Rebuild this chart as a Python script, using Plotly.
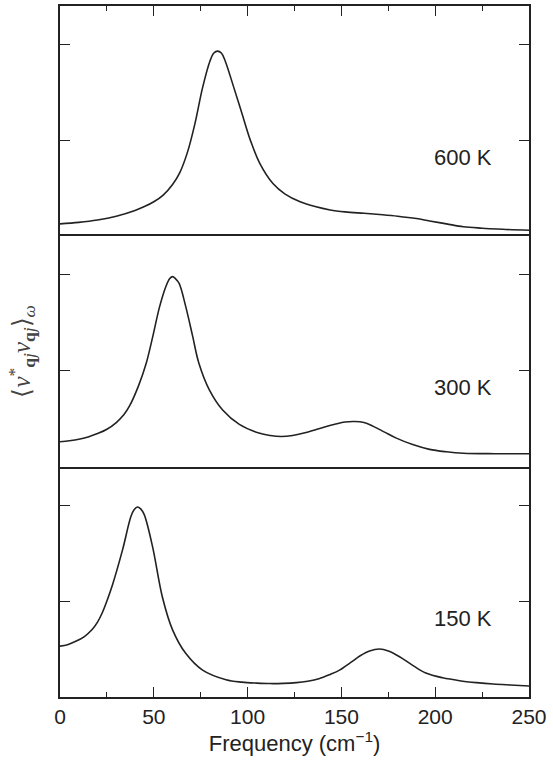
import plotly.graph_objects as go

# Frequency samples (cm^-1) and values for each temperature
freq_600 = [0, 10, 20, 30, 40, 45, 50, 55, 60, 64, 68, 72, 76, 80, 82, 84, 86, 88, 92.5, 97, 101.5,
            106.5, 113.5, 120, 128, 136, 144, 152, 162, 172, 180, 190, 197, 206, 215, 225, 233, 250]
val_600 = [0.13, 0.145, 0.17, 0.21, 0.27, 0.31, 0.36, 0.43, 0.54, 0.67, 0.88, 1.18, 1.55, 1.83, 1.91, 1.93, 1.91, 1.83, 1.56, 1.28, 1.0,
           0.76, 0.55, 0.44, 0.36, 0.31, 0.275, 0.255, 0.24, 0.225, 0.21, 0.185, 0.16, 0.13, 0.10, 0.085, 0.076, 0.063]

freq_300 = [0, 5, 10, 15, 20, 25, 30, 34, 37, 42, 46, 49.5, 53, 56.5, 58.5, 60, 61.5, 63.5, 67, 70.7, 74, 79.6, 86.7,
            95.6, 106, 112, 118, 124, 130, 137, 146, 152, 157, 162, 167, 173, 179, 188, 197, 206, 215, 232, 250]
val_300 = [0.26, 0.27, 0.285, 0.31, 0.345, 0.39, 0.46, 0.54, 0.63, 0.85, 1.08, 1.36, 1.66, 1.88, 1.96, 1.98, 1.96, 1.91, 1.67, 1.36, 1.08, 0.80, 0.59,
           0.44, 0.35, 0.325, 0.315, 0.325, 0.35, 0.39, 0.44, 0.465, 0.47, 0.46, 0.42, 0.36, 0.30, 0.23, 0.18, 0.155, 0.14, 0.135, 0.135]

freq_150 = [0, 4, 8.4, 13, 17, 20, 22.6, 25, 28, 33.3, 37.8, 39.5, 41.3, 43, 44.9, 49.3, 54.6, 60, 67, 76, 88.5, 97, 105, 112,
            119, 126, 132, 138, 144, 149, 155, 160, 165, 170.4, 175, 181, 188, 195, 204, 213, 222, 231, 240, 250]
val_150 = [0.53, 0.545, 0.58, 0.63, 0.70, 0.78, 0.88, 1.0, 1.17, 1.53, 1.88, 1.95, 1.98, 1.96, 1.90, 1.57, 1.04, 0.70, 0.455, 0.28, 0.18, 0.155, 0.145, 0.14,
           0.142, 0.15, 0.165, 0.19, 0.235, 0.28, 0.36, 0.43, 0.48, 0.50, 0.48, 0.42, 0.33, 0.25, 0.20, 0.17, 0.15, 0.135, 0.125, 0.115]

panel_labels = ["600 K", "300 K", "150 K"]
x_ticks = [0, 50, 100, 150, 200, 250]
x_minor = [25, 75, 125, 175, 225]
y_ticks = [1, 2]

LINE = "#222222"
TXT = "#222222"
FONT = "Liberation Sans, Arial, Helvetica, sans-serif"

fig = go.Figure()
series = [(freq_600, val_600), (freq_300, val_300), (freq_150, val_150)]
axes = [("x", "y"), ("x2", "y2"), ("x3", "y3")]
for (fx, fv), (xa, ya) in zip(series, axes):
    fig.add_trace(go.Scatter(x=fx, y=fv, mode="lines", xaxis=xa, yaxis=ya,
                             line=dict(color=LINE, width=1.6, shape="spline", smoothing=1.0),
                             showlegend=False, hoverinfo="skip"))

domains = [[2/3, 1], [1/3, 2/3], [0, 1/3]]
common_x = dict(range=[0, 250], showline=True, linecolor=LINE, linewidth=1.5,
                showgrid=False, zeroline=False, fixedrange=True)
common_y = dict(range=[0, 2.4], showline=True, linecolor=LINE, linewidth=1.5, mirror="ticks",
                showgrid=False, zeroline=False, tickvals=y_ticks, ticks="inside", ticklen=10,
                tickwidth=1.3, tickcolor=LINE, showticklabels=False, fixedrange=True)

layout = dict(
    width=553, height=763,
    margin=dict(l=60, r=24, t=6, b=66),
    paper_bgcolor="white", plot_bgcolor="white",
    font=dict(family=FONT, size=21, color=TXT),
)
# top panel x-axis: line and ticks on the top side only
layout["xaxis"] = dict(common_x, anchor="y", side="top", mirror=False, ticks="inside", tickvals=x_ticks,
                       ticklen=10, tickwidth=1.3, tickcolor=LINE, showticklabels=False,
                       minor=dict(tickvals=x_minor, ticks="inside", ticklen=5,
                                  tickwidth=1.3, tickcolor=LINE))
# middle panel: separating lines on both sides
layout["xaxis2"] = dict(common_x, anchor="y2", mirror=True, ticks="", showticklabels=False)
# bottom panel: labelled axis at bottom
layout["xaxis3"] = dict(common_x, anchor="y3", mirror=False, ticks="inside", tickvals=x_ticks, ticklen=10,
                        tickwidth=1.3, tickcolor=LINE, showticklabels=True,
                        tickfont=dict(family=FONT, size=21, color=TXT),
                        minor=dict(tickvals=x_minor, ticks="inside", ticklen=5,
                                   tickwidth=1.3, tickcolor=LINE),
                        title=dict(text="Frequency (cm<sup>\u22121</sup>)",
                                   font=dict(family=FONT, size=22, color=TXT), standoff=4))
for i, dom in enumerate(domains):
    key = "yaxis" if i == 0 else f"yaxis{i+1}"
    layout[key] = dict(common_y, domain=dom, anchor="x" if i == 0 else f"x{i+1}")

fig.update_layout(**layout)

for i, lab in enumerate(panel_labels):
    fig.add_annotation(x=215, y=0.82, xref="x" if i == 0 else f"x{i+1}",
                       yref="y" if i == 0 else f"y{i+1}", text=lab, showarrow=False,
                       font=dict(family=FONT, size=22, color=TXT))

fig.add_annotation(
    x=-0.083, y=0.5, xref="paper", yref="paper", xanchor="center", yanchor="middle",
    textangle=-90, showarrow=False,
    text="\u27e8<i>v</i><sup>*</sup><sub><b>q</b><i>j</i></sub><i>v</i><sub><b>q</b><i>j</i></sub>\u27e9<sub><i>\u03c9</i></sub>",
    font=dict(family="Liberation Serif, Times New Roman, serif", size=25, color="#444444"))

fig.write_html("out.html", config={"displayModeBar": False},
               post_script="document.body.style.margin='0';document.body.style.padding='0';")
